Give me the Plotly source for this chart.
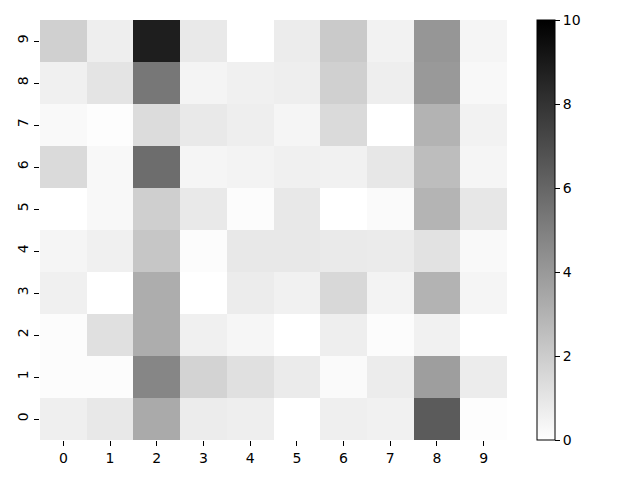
import plotly.graph_objects as go

x_labels = [0, 1, 2, 3, 4, 5, 6, 7, 8, 9]
y_labels = [0, 1, 2, 3, 4, 5, 6, 7, 8, 9]

row0 = [0.63, 0.90, 3.33, 0.75, 0.67, 0.00, 0.63, 0.55, 6.43, 0.08]
row1 = [0.12, 0.12, 4.75, 1.73, 1.22, 0.78, 0.20, 0.75, 3.80, 0.75]
row2 = [0.12, 1.22, 3.22, 0.59, 0.35, 0.00, 0.67, 0.12, 0.55, 0.00]
row3 = [0.59, 0.00, 3.22, 0.00, 0.75, 0.55, 1.53, 0.47, 2.98, 0.39]
row4 = [0.39, 0.59, 2.24, 0.12, 0.90, 0.90, 0.82, 0.78, 1.14, 0.24]
row5 = [0.00, 0.27, 1.88, 0.86, 0.12, 0.90, 0.00, 0.20, 2.94, 0.94]
row6 = [1.45, 0.27, 5.73, 0.39, 0.47, 0.59, 0.55, 0.94, 2.59, 0.39]
row7 = [0.24, 0.08, 1.37, 0.86, 0.67, 0.39, 1.45, 0.00, 2.98, 0.51]
row8 = [0.59, 1.06, 5.33, 0.43, 0.59, 0.67, 1.84, 0.67, 4.00, 0.27]
row9 = [1.84, 0.67, 8.82, 0.86, 0.00, 0.75, 2.08, 0.51, 4.12, 0.39]

z = [row0, row1, row2, row3, row4, row5, row6, row7, row8, row9]
cbar_ticks = [0, 2, 4, 6, 8, 10]

fig = go.Figure(go.Heatmap(
    z=z, x=x_labels, y=y_labels,
    colorscale=[[0, "#ffffff"], [1, "#000000"]],
    zmin=0, zmax=10,
    xgap=0, ygap=0,
    colorbar=dict(
        x=(537 - 40) / 467, xanchor="left", xpad=0,
        y=0.5, yanchor="middle",
        len=420, lenmode="pixels",
        thickness=18, thicknessmode="pixels",
        outlinewidth=1, outlinecolor="black",
        tickvals=cbar_ticks, ticks="outside", ticklen=5, tickcolor="black",
        tickfont=dict(family="DejaVu Sans", size=14, color="black"),
        ypad=0,
    ),
))

fig.update_layout(
    width=632, height=472,
    margin=dict(l=32, r=133, t=12, b=40, autoexpand=False),
    plot_bgcolor="white", paper_bgcolor="white",
    font=dict(family="DejaVu Sans", size=14, color="black"),
)
fig.update_xaxes(
    range=[-0.5, 9.5], tickvals=x_labels, ticks="outside", ticklen=5,
    tickcolor="black", showgrid=False, zeroline=False, showline=False,
    tickfont=dict(size=14), automargin=False,
)
fig.update_yaxes(
    range=[-0.5, 9.5], tickvals=y_labels, ticks="outside", ticklen=5,
    tickcolor="black", showgrid=False, zeroline=False, showline=False,
    tickangle=-90, tickfont=dict(size=14), automargin=False,
)

fig.write_html("out.html")
